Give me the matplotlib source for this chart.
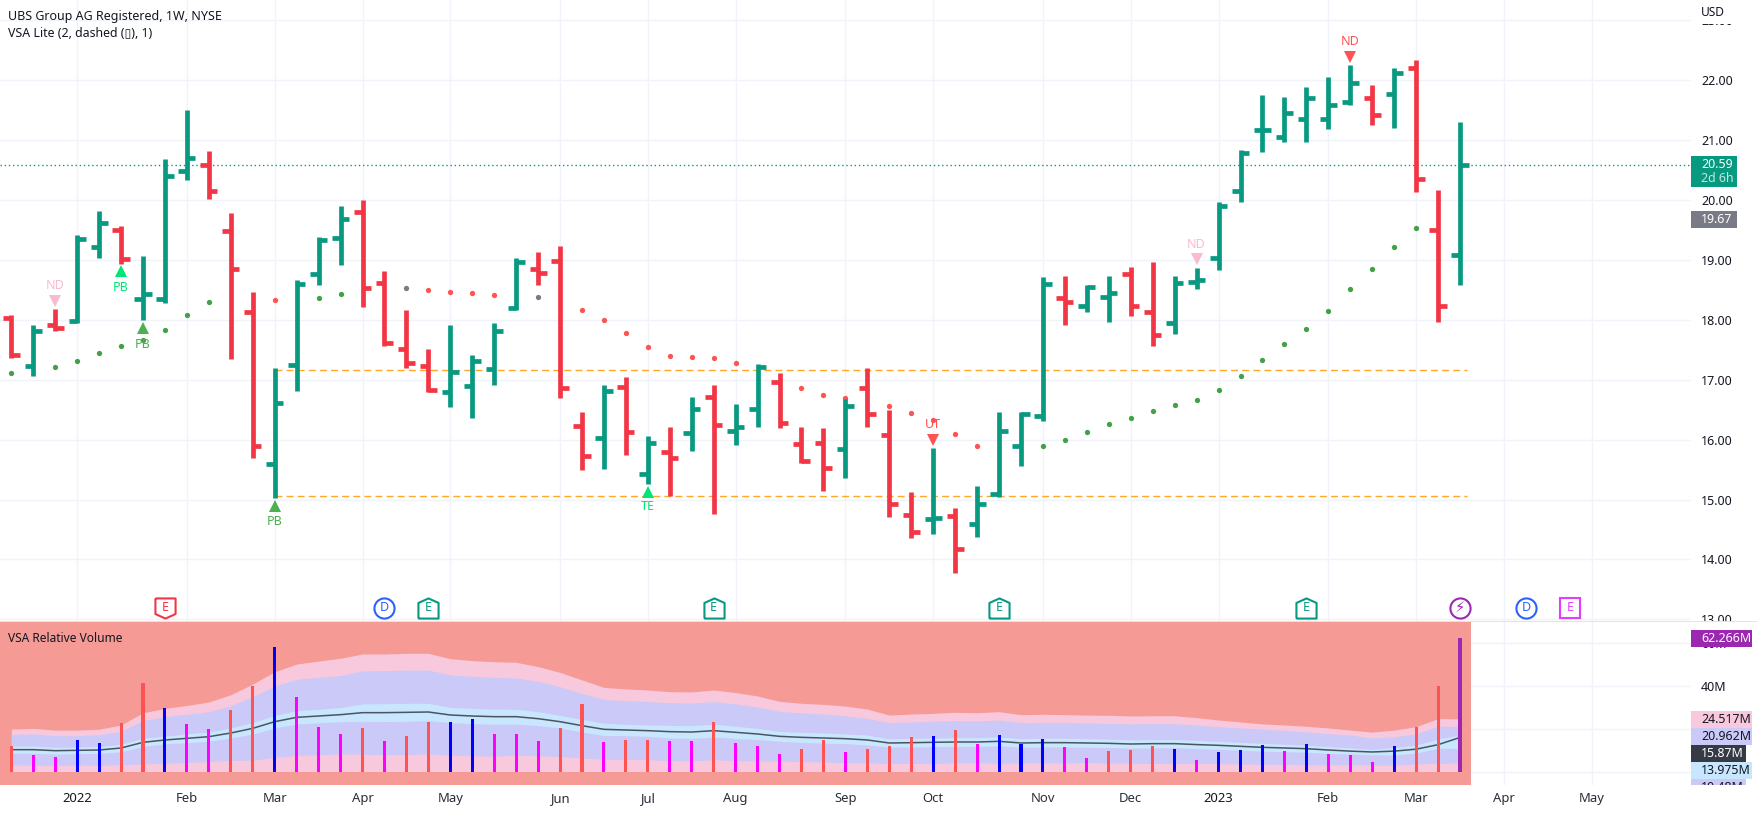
import numpy as np
import matplotlib
matplotlib.use('Agg')
import matplotlib.pyplot as plt
from matplotlib.patches import Rectangle
from matplotlib.transforms import Bbox

plt.rcParams['font.family'] = ['Noto Sans', 'DejaVu Sans']

W, H = 1757, 813

# weekly OHLC
opens = [18.03, 17.23, 17.92, 17.98, 19.22, 19.50, 18.35, 18.35, 20.48, 20.58, 19.48, 18.13, 15.60, 17.25, 18.77, 19.37, 19.80, 18.62, 17.52, 17.23, 16.80, 16.90, 17.18,
         18.20, 18.85, 18.98, 16.23, 16.03, 16.88, 15.43, 15.80, 16.12, 16.72, 16.15, 16.52, 16.97, 15.92, 15.95, 15.85, 16.87, 16.08, 14.74, 14.67, 14.72, 14.60, 15.10, 15.90,
         16.40, 18.37, 18.23, 18.38, 18.77, 18.13, 17.95, 18.63, 19.03, 20.15, 21.17, 21.05, 21.35, 21.35, 21.63, 21.70, 21.77, 22.20, 19.50, 19.08]
highs = [18.09, 17.92, 18.19, 19.42, 19.82, 19.57, 19.06, 20.68, 21.50, 20.82, 19.79, 18.47, 17.19, 18.67, 19.39, 19.90, 20.00, 18.81, 18.17, 17.52, 17.91, 17.42, 17.94,
         19.04, 19.14, 19.24, 16.47, 16.91, 17.04, 16.07, 16.21, 16.72, 16.92, 16.59, 17.26, 17.12, 16.22, 16.19, 16.68, 17.19, 16.50, 15.12, 15.86, 14.86, 15.22, 16.47, 16.47,
         18.72, 18.74, 18.59, 18.74, 18.89, 18.97, 18.74, 18.87, 19.97, 20.84, 21.76, 21.72, 21.89, 22.06, 22.26, 21.92, 22.21, 22.34, 20.17, 21.31]
lows = [17.36, 17.06, 17.81, 17.94, 19.03, 18.94, 17.99, 18.29, 20.34, 20.02, 17.34, 15.69, 15.02, 16.81, 18.59, 18.92, 18.21, 17.56, 17.19, 16.79, 16.54, 16.36, 16.92,
        18.16, 18.59, 16.69, 15.49, 15.51, 15.74, 15.26, 15.06, 15.81, 14.76, 15.91, 16.21, 16.19, 15.61, 15.14, 15.36, 16.22, 14.71, 14.36, 14.42, 13.77, 14.38, 15.04, 15.56,
        16.32, 17.92, 18.14, 17.97, 18.06, 17.57, 17.77, 18.51, 18.84, 19.96, 20.81, 20.97, 20.97, 21.19, 21.59, 21.26, 21.21, 20.14, 17.96, 18.59]
closes = [17.42, 17.82, 17.87, 19.35, 19.62, 19.02, 18.43, 20.40, 20.70, 20.15, 18.85, 15.90, 16.62, 18.60, 19.33, 19.68, 18.53, 17.62, 17.28, 16.83, 17.13, 17.32, 17.82,
          18.97, 18.78, 16.87, 15.72, 16.82, 16.13, 15.95, 15.70, 16.52, 16.25, 16.22, 17.22, 16.28, 15.65, 15.53, 16.57, 16.43, 14.92, 14.46, 14.70, 14.17, 14.93, 16.15, 16.43,
          18.60, 18.30, 18.55, 18.45, 18.23, 17.75, 18.62, 18.67, 19.90, 20.78, 21.17, 21.45, 21.70, 21.58, 21.95, 21.42, 22.12, 20.35, 18.24, 20.59]

# dots of the VSA trend
green_dot_idx = [0, 2, 3, 4, 5, 6, 7, 8, 9, 14, 15, 47, 48, 49, 50, 51, 52, 53, 54, 55, 56, 57, 58, 59, 60, 61, 62, 63, 64]
green_dot_val = [17.12, 17.22, 17.32, 17.45, 17.57, 17.67, 17.83, 18.08, 18.30, 18.37, 18.43, 15.90, 16.00, 16.13, 16.27, 16.37, 16.48, 16.58, 16.67, 16.83, 17.07, 17.33, 17.60, 17.85, 18.15, 18.52, 18.85, 19.22, 19.53]
red_dot_idx = [12, 19, 20, 21, 22, 26, 27, 28, 29, 30, 31, 32, 33, 36, 37, 38, 40, 41, 42, 43, 44]
red_dot_val = [18.33, 18.50, 18.47, 18.45, 18.42, 18.17, 18.00, 17.78, 17.55, 17.40, 17.38, 17.37, 17.28, 16.87, 16.75, 16.69, 16.57, 16.45, 16.33, 16.10, 15.90]
gray_dot_idx = [18, 24]
gray_dot_val = [18.53, 18.38]

# signals: bar, label, price of triangle, price of text
sig_idx = [2, 5, 6, 12, 29, 42, 54, 61]
sig_text = ['ND', 'PB', 'PB', 'PB', 'TE', 'UT', 'ND', 'ND']
sig_tri = [18.32, 18.81, 17.87, 14.89, 15.13, 15.99, 19.01, 22.39]
sig_lab = [18.58, 18.54, 17.59, 14.63, 14.88, 16.25, 19.26, 22.64]
sig_up = [False, True, True, True, True, False, False, False]
sig_col = ['#f8bbd0', '#00e676', '#4caf50', '#4caf50', '#00e676', '#ff5252', '#f8bbd0', '#ff5252']

levels = [15.06, 17.16]
last_price = 20.59

# volume pane, millions
volume = [11.9, 7.7, 6.8, 14.7, 13.3, 22.6, 41.3, 29.6, 22.1, 19.8, 28.7, 39.9, 58.0, 34.7, 20.7, 17.5, 20.3, 14.2, 16.5, 23.1, 23.1, 24.5, 17.5, 17.5, 14.2, 20.3, 31.5, 13.8, 14.7, 14.7,
          14.2, 14.2, 23.1, 13.3, 11.9, 8.2, 10.5, 14.7, 9.1, 10.5, 11.9, 16.1, 16.5, 19.3, 12.8, 17.0, 12.8, 15.2, 11.4, 6.3, 9.6, 10.0, 11.9, 10.5, 5.4, 9.1, 10.0, 12.4, 9.6, 12.8,
          8.2, 7.7, 4.4, 11.9, 20.7, 39.9, 62.266]
vol_kind = 'rmmbbrrbmmrrbmmmrmrrbbmmmrrmrr' + 'mmrmmmrrmrrrbrmbbbmmrrrbmbbbmb' + 'mmmbrrp'

vol_mean = [10.18, 10.18, 9.71, 9.87, 10.02, 10.96, 13.6, 14.69, 15.46, 16.24, 17.95, 20.12, 23.23, 25.25, 25.87, 26.5, 27.43, 27.43, 27.58, 27.74, 26.34, 25.87, 25.56, 25.56, 24.63, 23.23, 21.37, 19.66, 19.35, 19.04,
            18.57, 18.41, 19.04, 18.26, 17.48, 16.39, 15.93, 15.62, 15.3, 14.69, 13.29, 13.44, 13.6, 13.75, 13.75, 14.06, 13.29, 13.44, 13.44, 13.29, 13.13, 12.82, 12.98, 12.98, 12.55, 12.2, 11.74, 11.27, 10.96, 10.64,
            10.02, 9.5, 9.1, 9.5, 10.4, 12.5, 15.87]
pink_top = [19.8, 20.1, 19.3, 19.3, 19.7, 21.7, 27.4, 29.4, 30.8, 32.4, 35.8, 40.8, 46.5, 50.1, 51.5, 52.8, 54.8, 54.8, 55.1, 55.1, 52.6, 51.7, 51.2, 50.9, 48.9, 46.2, 42.7, 39.2, 38.5, 38.0,
            37.2, 37.1, 38.0, 36.8, 35.2, 32.7, 31.8, 31.3, 30.5, 29.1, 26.3, 26.8, 27.1, 27.6, 27.4, 27.9, 26.5, 26.7, 26.5, 26.3, 26.2, 25.9, 26.0, 26.0, 25.1, 24.0, 23.1, 22.2, 21.7, 21.1,
            20.3, 19.3, 18.4, 19.3, 20.9, 24.7, 24.517]
lav_top = [17.3, 17.5, 16.7, 16.7, 17.2, 18.7, 23.7, 25.6, 26.7, 27.9, 30.7, 34.9, 39.9, 43.0, 43.9, 44.8, 46.9, 47.0, 47.3, 47.3, 45.0, 44.4, 43.9, 43.6, 42.0, 39.5, 36.4, 33.6, 33.0, 32.6,
           32.1, 31.9, 32.6, 31.5, 30.1, 28.0, 27.3, 26.8, 25.9, 24.8, 22.8, 23.1, 23.4, 23.7, 23.5, 24.0, 22.8, 22.9, 22.9, 22.6, 22.4, 22.2, 22.3, 22.3, 21.6, 20.9, 20.3, 19.7, 19.2, 18.5,
           17.6, 17.0, 15.6, 16.2, 17.5, 21.1, 20.962]
blue_top = [11.9, 11.9, 11.3, 11.4, 11.6, 12.7, 15.5, 16.5, 17.5, 18.4, 20.3, 22.8, 26.2, 28.4, 29.0, 29.8, 31.5, 31.6, 31.8, 31.8, 29.9, 29.4, 29.1, 29.0, 27.9, 26.2, 24.3, 22.5, 22.0, 21.7,
            21.5, 21.4, 22.0, 21.1, 20.1, 18.7, 18.3, 18.0, 17.5, 17.0, 15.2, 15.5, 15.6, 15.8, 15.8, 16.1, 15.3, 15.5, 15.5, 15.3, 15.1, 14.8, 14.9, 14.9, 14.5, 14.1, 13.6, 13.1, 12.7, 12.3,
            11.6, 11.0, 10.3, 11.2, 12.3, 15.2, 17.0]
blue_bot = [8.5, 8.5, 8.1, 8.3, 8.4, 9.2, 11.7, 12.9, 13.4, 14.1, 15.6, 17.4, 20.3, 22.1, 22.7, 23.2, 23.4, 23.3, 23.4, 23.7, 22.8, 22.3, 22.0, 22.1, 21.4, 20.3, 18.4, 16.8, 16.7, 16.4,
            15.6, 15.4, 16.1, 15.4, 14.9, 14.1, 13.6, 13.2, 13.0, 12.4, 11.4, 11.4, 11.6, 11.7, 11.7, 12.0, 11.3, 11.4, 11.4, 11.3, 11.2, 10.9, 11.0, 11.1, 10.7, 10.3, 9.9, 9.5, 9.2, 9.0,
            8.4, 8.2, 7.8, 7.7, 8.6, 10.8, 10.8]
lav_bot = [3.1, 2.9, 2.7, 3.0, 2.8, 3.2, 3.5, 3.8, 4.2, 4.6, 5.2, 5.3, 6.6, 7.5, 7.8, 8.2, 8.0, 7.9, 7.9, 8.2, 7.7, 7.3, 7.2, 7.5, 7.3, 7.0, 6.3, 5.7, 5.7, 5.5,
           5.0, 4.9, 5.5, 5.0, 4.9, 4.8, 4.6, 4.4, 4.1, 4.0, 3.8, 3.8, 3.8, 4.0, 4.1, 3.8, 4.0, 4.0, 4.0, 4.2, 3.9, 3.9, 3.8, 3.7, 3.7, 3.7, 3.5, 3.3, 3.3, 3.2,
           3.0, 3.2, 3.0, 3.0, 3.5, 3.8, 4.0]

# months on the time axis
month_idx = [3, 8, 12, 16, 20, 25, 29, 33, 38, 42, 47, 51, 55, 60, 64, 68, 72]
month_lab = ['2022', 'Feb', 'Mar', 'Apr', 'May', 'Jun', 'Jul', 'Aug', 'Sep', 'Oct', 'Nov', 'Dec', '2023', 'Feb', 'Mar', 'Apr', 'May']

# earnings / dividend flags
flag_idx = [7, 17, 19, 32, 45, 59, 66, 69, 71]
flag_kind = ['down', 'circle', 'up', 'up', 'up', 'up', 'circle', 'circle', 'square']
flag_text = ['E', 'D', 'E', 'E', 'E', 'E', '\u26a1', 'D', 'E']
flag_col = ['#f23645', '#2962ff', '#089981', '#089981', '#089981', '#089981', '#9c27b0', '#2962ff', '#e040fb']

GREEN = '#089981'
RED = '#f23645'
GRID = '#f0f3fa'
TXT = '#131722'
vol_cols = {'r': '#ff5252', 'm': '#ff00ff', 'b': '#0000ff', 'p': '#9c27b0'}

fig = plt.figure(figsize=(W / 100, H / 100), dpi=100, facecolor='white')
x0 = -11.3 / 21.95
x1 = (1691 - 11.3) / 21.95


def px_axes(left, top, right, bottom):
    return fig.add_axes([left / W, 1 - bottom / H, (right - left) / W, (bottom - top) / H])


ax = px_axes(0, 0, 1691, 621)
vx = px_axes(0, 622, 1691, 785)

x = np.arange(len(closes))
for a in (ax, vx):
    a.set_xlim(x0, x1)
    for s in a.spines.values():
        s.set_visible(False)
    a.set_xticks(month_idx)
    a.grid(True, color=GRID, linewidth=1)
    a.set_axisbelow(True)
    a.yaxis.tick_right()
    a.tick_params(length=0, pad=7.2, labelsize=9, labelcolor=TXT)

# price pane
ax.set_ylim(22 - (621 - 80.3) / 59.9, 22 + 80.3 / 59.9)
ax.set_yticks(range(13, 24))
ax.set_yticklabels(['%.2f' % v for v in range(13, 24)])
ax.tick_params(labelbottom=False)
for t in ax.get_yticklabels():
    t.set_clip_on(True)
    t.set_clip_box(Bbox([[1691, H - 621], [W, H - 23]]))

for lev in levels:
    ax.plot([12, 66.3], [lev, lev], color='#ffa726', linewidth=1, dashes=(5, 3), zorder=1.5)
ax.axhline(last_price, color=GREEN, linewidth=1, dashes=(1, 2), zorder=1.6)

ax.plot(green_dot_idx, green_dot_val, 'o', color='#43a047', ms=3.8, mew=0, zorder=2)
ax.plot(red_dot_idx, red_dot_val, 'o', color='#ff5252', ms=3.8, mew=0, zorder=2)
ax.plot(gray_dot_idx, gray_dot_val, 'o', color='#787b86', ms=3.8, mew=0, zorder=2)

cols = [GREEN if c >= o else RED for o, c in zip(opens, closes)]
ax.vlines(x, lows, highs, colors=cols, linewidth=3.4, capstyle='butt', zorder=3)
ax.hlines(opens, x - 0.39, x, colors=cols, linewidth=3.4, capstyle='butt', zorder=3)
ax.hlines(closes, x, x + 0.39, colors=cols, linewidth=3.4, capstyle='butt', zorder=3)

for i, lab, tri, ly, up, c in zip(sig_idx, sig_text, sig_tri, sig_lab, sig_up, sig_col):
    ax.plot([i], [tri], '^' if up else 'v', color=c, ms=9, mew=0, zorder=4)
    ax.text(i, ly, lab, color=c, fontsize=9, ha='center', va='center', zorder=4)

# flags sit on the bottom edge of the price pane
flag_tr = ax.get_xaxis_transform()
house_up = [(-1, -1), (1, -1), (1, 0.55), (0, 1), (-1, 0.55), (-1, -1)]
house_down = [(-1, 1), (1, 1), (1, -0.55), (0, -1), (-1, -0.55), (-1, 1)]
markers = {'up': house_up, 'down': house_down, 'circle': 'o', 'square': 's'}
for i, kind, lab, c in zip(flag_idx, flag_kind, flag_text, flag_col):
    ax.plot([i], [0.021], marker=markers[kind], ms=14.5, mfc='white', mec=c, mew=1.5,
            transform=flag_tr, zorder=5, clip_on=False)
    ax.text(i, 0.021, lab, color=c, fontsize=10.5 if lab == '\u26a1' else 9, ha='center', va='center',
            transform=flag_tr, zorder=6)

fig.text(8 / W, 1 - 16.5 / H, 'UBS Group AG Registered, 1W, NYSE', color=TXT, fontsize=9.0, fontweight='bold', va='center')
fig.text(8 / W, 1 - 33.5 / H, 'VSA Lite (2, dashed (\u25af), 1)', color=TXT, fontsize=8.9, va='center')

# volume pane
vx.set_ylim((771.5 - 785) / 2.145, (771.5 - 622) / 2.145)
vx.set_yticks([0, 20, 40, 60])
vx.set_yticklabels(['0', '20M', '40M', '60M'])
vx.axvspan(-0.5, len(volume) - 0.5, color='#f59a94', lw=0, zorder=1)
vx.fill_between(x, 0, pink_top, color='#f8c8dc', lw=0, zorder=1.1)
vx.fill_between(x, lav_bot, lav_top, color='#cbc9f7', lw=0, zorder=1.2)
vx.fill_between(x, blue_bot, blue_top, color='#c8e6fd', lw=0, zorder=1.3)
vx.plot(x, vol_mean, color='#4a5560', linewidth=1.1, zorder=2)
vx.bar(x, volume, width=0.14, color=[vol_cols[k] for k in vol_kind], zorder=3)
vx.set_xticklabels([])

fig.text(8 / W, 1 - 638 / H, 'VSA Relative Volume', color=TXT, fontsize=8.6, va='center')

# pane separator
fig.add_artist(Rectangle((0, 1 - 622 / H), 1, 1.5 / H, transform=fig.transFigure, color='#e0e3eb', lw=0))

for i, lab in zip(month_idx, month_lab):
    bold = lab.startswith('20')
    fig.text((11.3 + i * 21.95) / W, 1 - 798.5 / H, lab, color=TXT if bold else '#2a2e39', fontsize=9.4,
             ha='center', va='center', fontweight='bold' if bold else 'normal')


def box(top, bottom, right, color, lines):
    fig.add_artist(Rectangle((1691 / W, 1 - bottom / H), (right - 1691) / W, (bottom - top) / H,
                             transform=fig.transFigure, color=color, lw=0))
    for lab, yy, c in lines:
        t = fig.text(1701 / W, 1 - yy / H, lab, color=c, fontsize=8.9, va='center', zorder=3)
        t.set_clip_on(True)
        t.set_clip_box(Bbox([[1691, H - 785], [W, H]]))


fig.add_artist(Rectangle((1691 / W, 1 - 24.5 / H), 66 / W, 21.5 / H, transform=fig.transFigure, color='white', lw=0))
fig.text(1701 / W, 1 - 13 / H, 'USD', color=TXT, fontsize=8.6, va='center', zorder=3)

box(156, 187, 1737, GREEN, [('%.2f' % last_price, 165, 'white'), ('2d 6h', 179, '#c5e8df')])
box(211, 228, 1737, '#787b86', [('19.67', 219.5, 'white')])
box(630, 647, 1752, '#9c27b0', [('62.266M', 638.5, 'white')])
box(711, 728, 1752, '#f8c8dc', [('24.517M', 719.5, TXT)])
box(728, 745, 1752, '#cbc9f7', [('20.962M', 736.5, TXT)])
box(745, 762, 1746, '#363a45', [('15.87M', 753.5, 'white')])
box(762, 779, 1752, '#c8e6fd', [('13.975M', 770.5, TXT)])
box(779, 785, 1746, '#cbc9f7', [('10.48M', 787.5, TXT)])

fig.savefig('out.png', dpi=100)
